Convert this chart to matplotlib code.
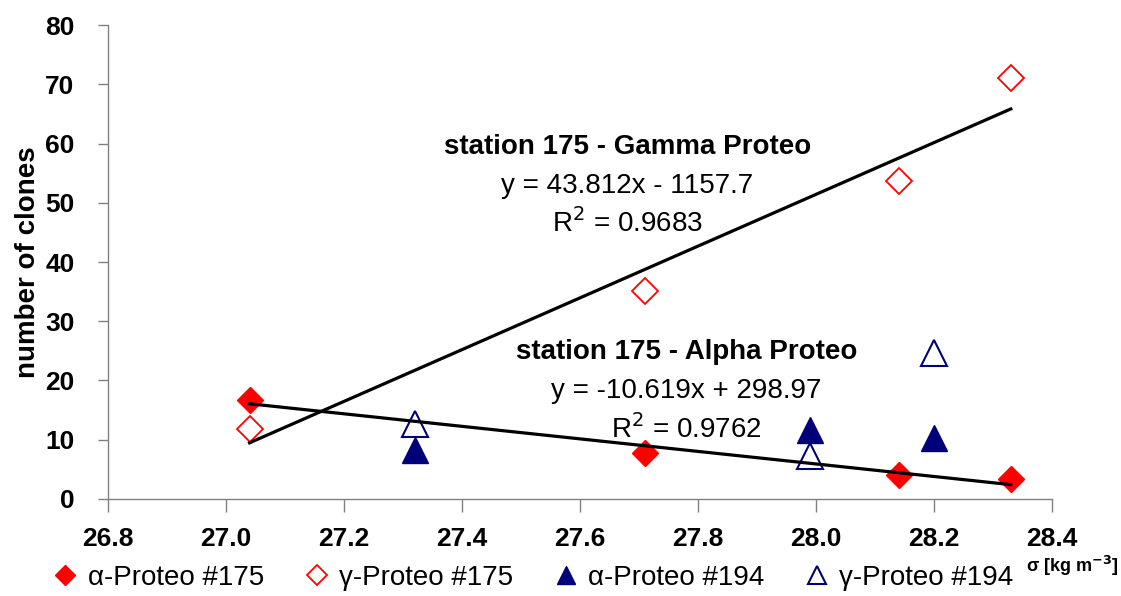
import numpy as np
import matplotlib
matplotlib.use("Agg")
import matplotlib.pyplot as plt
from matplotlib.lines import Line2D

plt.rcParams['font.family'] = ['Liberation Sans', 'DejaVu Sans']

# sigma (density) values and clone counts
x175 = [27.04, 27.71, 28.14, 28.33]
alpha175 = [16.7, 7.8, 4.0, 3.4]
gamma175 = [11.8, 35.1, 53.7, 71.0]

x194 = [27.32, 27.99, 28.20]
alpha194 = [8.3, 11.6, 10.3]
gamma194 = [12.7, 7.3, 24.6]

xticks = [26.8, 27.0, 27.2, 27.4, 27.6, 27.8, 28.0, 28.2, 28.4]
yticks = [0, 10, 20, 30, 40, 50, 60, 70, 80]

red = '#ff0000'
navy = '#00007a'

fig = plt.figure(figsize=(11.21, 5.96), dpi=100)
ax = fig.add_axes([0.0963, 0.1628, 0.8422, 0.7952])

# linear trend lines for station 175
for ys in (gamma175, alpha175):
    k, b = np.polyfit(x175, ys, 1)
    xs = np.array([min(x175), max(x175)])
    ax.plot(xs, k * xs + b, color='black', lw=2.3, zorder=4)

ax.plot(x175, alpha175, 'D', color=red, ms=13.5, mec=red, zorder=3)
ax.plot(x175, gamma175, 'D', color='none', ms=13.5, mec=red, mew=1.3, zorder=3)
ax.plot(x194, alpha194, '^', color=navy, ms=19, mec=navy, zorder=3)
ax.plot(x194, gamma194, '^', color='none', ms=19, mec=navy, mew=1.5, zorder=3)

ax.set_xlim(26.8, 28.4)
ax.set_ylim(0, 80)
ax.set_xticks(xticks)
ax.set_xticklabels([f'{t:.1f}' for t in xticks])
ax.set_yticks(yticks)
for s in ('top', 'right'):
    ax.spines[s].set_visible(False)
for s in ('left', 'bottom'):
    ax.spines[s].set_color('#808080')
    ax.spines[s].set_linewidth(1.0)
ax.tick_params(axis='both', direction='out', length=7, width=1, color='#808080',
               labelsize=19)
ax.tick_params(axis='x', length=9, pad=11)
ax.tick_params(axis='y', pad=17)
for lab in ax.get_xticklabels() + ax.get_yticklabels():
    lab.set_fontweight('bold')

ax.set_ylabel('number of clones', fontsize=20, fontweight='bold', labelpad=3)

# regression annotations
ax.text(27.68, 59.4, 'station 175 - Gamma Proteo', ha='center', va='center',
        fontsize=20, fontweight='bold')
ax.text(27.68, 52.8, 'y = 43.812x - 1157.7', ha='center', va='center', fontsize=20)
ax.text(27.68, 46.5, 'R$^2$ = 0.9683', ha='center', va='center', fontsize=20)

ax.text(27.78, 24.8, 'station 175 - Alpha Proteo', ha='center', va='center',
        fontsize=20, fontweight='bold')
ax.text(27.78, 18.2, 'y = -10.619x + 298.97', ha='center', va='center', fontsize=20)
ax.text(27.78, 11.8, 'R$^2$ = 0.9762', ha='center', va='center', fontsize=20)

fig.text(0.956, 0.05, r'σ [kg m$^{\mathbf{-3}}$]', ha='center', va='center',
         fontsize=13, fontweight='bold')

handles = [
    Line2D([], [], ls='none', marker='D', color=red, ms=10),
    Line2D([], [], ls='none', marker='D', color='none', mec=red, mew=1.3, ms=10),
    Line2D([], [], ls='none', marker='^', color=navy, ms=13),
    Line2D([], [], ls='none', marker='^', color='none', mec=navy, mew=1.5, ms=13),
]
labels = ['α-Proteo #175', 'γ-Proteo #175', 'α-Proteo #194', 'γ-Proteo #194']
fig.legend(handles, labels, loc='center left', bbox_to_anchor=(0.036, 0.03),
           ncol=4, frameon=False, fontsize=20, handletextpad=0.3,
           columnspacing=1.4, handlelength=1.0, borderaxespad=0)

fig.savefig('out.png', dpi=100)
